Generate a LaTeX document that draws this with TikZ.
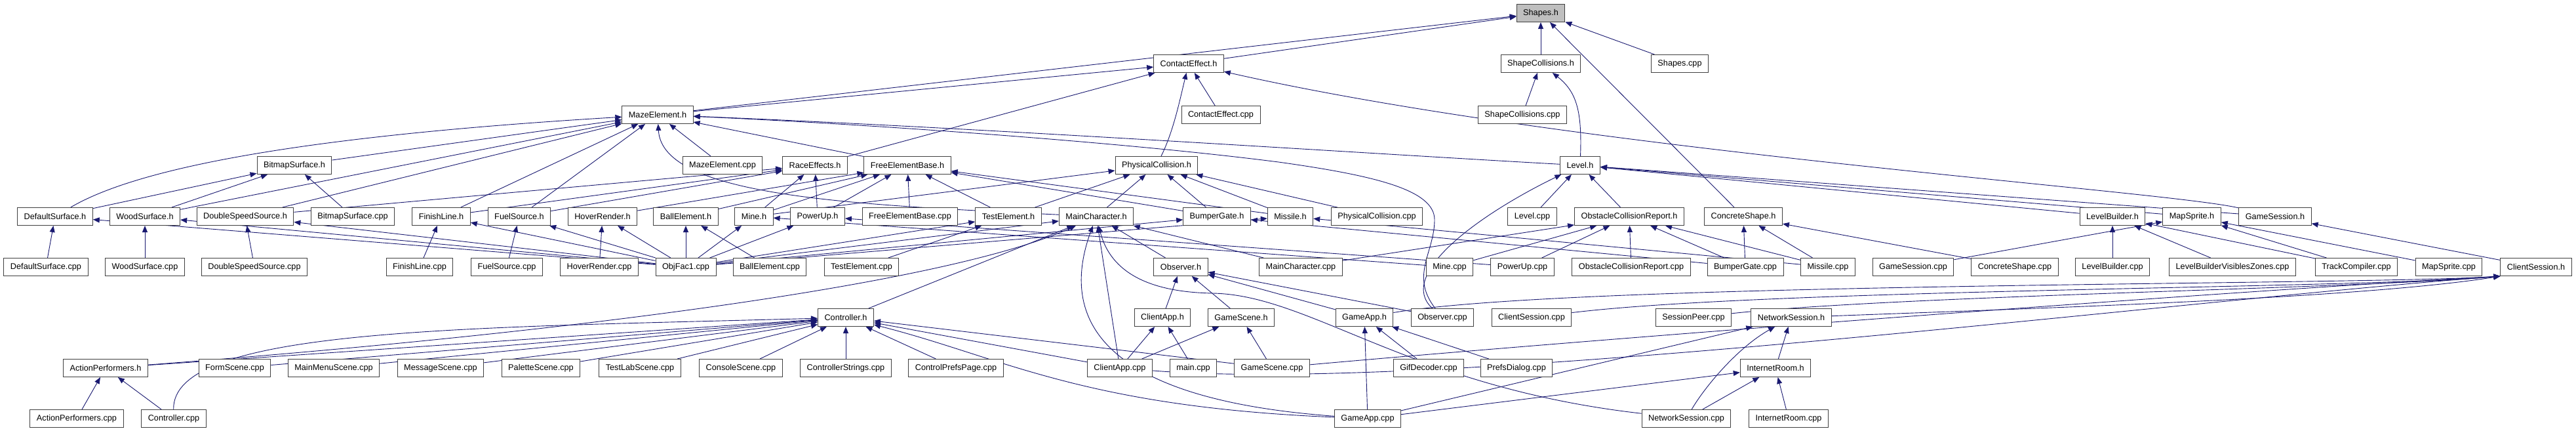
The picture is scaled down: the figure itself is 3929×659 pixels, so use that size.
\documentclass[tikz,border=0pt]{standalone}
\usepackage{fontspec}
\setmainfont{Liberation Sans}
\usetikzlibrary{arrows.meta}
\definecolor{midblue}{RGB}{25,25,112}
\definecolor{boxgray}{RGB}{191,191,191}
\pgfdeclarelayer{bg}
\pgfsetlayers{bg,main}
\begin{document}
\begin{tikzpicture}[
  x=1pt, y=-1pt,
  fnode/.style={draw=black!75, fill=white, line width=1pt, inner xsep=10pt, inner ysep=0pt,
    minimum height=27pt, font=\fontsize{12.7}{14}\selectfont},
  root/.style={fnode, fill=boxgray},
  dep/.style={draw=midblue, line width=0.9pt, -{Triangle[length=10pt,width=8pt]}}
]
  \useasboundingbox (0,0) rectangle (3929,659);

  % --- FILA 0 y 1 ---
  \node[root]  (shapesH)     at (2350, 20) {Shapes.h};
  \node[fnode] (contactH)    at (1813, 97) {ContactEffect.h};
  \node[fnode] (shapeColH)   at (2350, 97) {ShapeCollisions.h};
  \node[fnode] (shapesCpp)   at (2562, 97) {Shapes.cpp};

  % --- FILA 2 ---
  \node[fnode] (mazeH)       at (1003,175) {MazeElement.h};
  \node[fnode] (contactCpp)  at (1862,175) {ContactEffect.cpp};
  \node[fnode] (shapeColCpp) at (2322,175) {ShapeCollisions.cpp};

  % --- FILA 3 ---
  \node[fnode] (bitmapH)     at ( 449,252) {BitmapSurface.h};
  \node[fnode] (mazeCpp)     at (1102,252) {MazeElement.cpp};
  \node[fnode] (raceH)       at (1243,252) {RaceEffects.h};
  \node[fnode] (freeH)       at (1384,252) {FreeElementBase.h};
  \node[fnode] (physH)       at (1764,252) {PhysicalCollision.h};
  \node[fnode] (levelH)      at (2410,252) {Level.h};

  % --- FILA 4 ---
  \node[fnode] (defaultH)    at (  84,330) {DefaultSurface.h};
  \node[fnode] (woodH)       at ( 221,330) {WoodSurface.h};
  \node[fnode] (dssH)        at ( 374,330) {DoubleSpeedSource.h};
  \node[fnode] (bitmapCpp)   at ( 538,330) {BitmapSurface.cpp};
  \node[fnode] (finishH)     at ( 673,330) {FinishLine.h};
  \node[fnode] (fuelH)       at ( 792,330) {FuelSource.h};
  \node[fnode] (hoverH)      at ( 919,330) {HoverRender.h};
  \node[fnode] (ballH)       at (1046,330) {BallElement.h};
  \node[fnode] (mineH)       at (1150,330) {Mine.h};
  \node[fnode] (powerH)      at (1247,330) {PowerUp.h};
  \node[fnode] (freeCpp)     at (1388,330) {FreeElementBase.cpp};
  \node[fnode] (testH)       at (1538,330) {TestElement.h};
  \node[fnode] (mainCharH)   at (1672,330) {MainCharacter.h};
  \node[fnode] (bumperH)     at (1856,330) {BumperGate.h};
  \node[fnode] (missileH)    at (1968,330) {Missile.h};
  \node[fnode] (physCpp)     at (2100,330) {PhysicalCollision.cpp};
  \node[fnode] (levelCpp)    at (2337,330) {Level.cpp};
  \node[fnode] (ocrH)        at (2485,330) {ObstacleCollisionReport.h};
  \node[fnode] (concreteH)   at (2659,330) {ConcreteShape.h};
  \node[fnode] (builderH)    at (3222,330) {LevelBuilder.h};
  \node[fnode] (mapSpriteH)  at (3343,330) {MapSprite.h};
  \node[fnode] (gameSessH)   at (3470,330) {GameSession.h};

  % --- FILA 5 ---
  \node[fnode] (defaultCpp)  at (  70,407) {DefaultSurface.cpp};
  \node[fnode] (woodCpp)     at ( 221,407) {WoodSurface.cpp};
  \node[fnode] (dssCpp)      at ( 388,407) {DoubleSpeedSource.cpp};
  \node[fnode] (finishCpp)   at ( 640,407) {FinishLine.cpp};
  \node[fnode] (fuelCpp)     at ( 773,407) {FuelSource.cpp};
  \node[fnode] (hoverCpp)    at ( 914,407) {HoverRender.cpp};
  \node[fnode] (objFac)      at (1046,407) {ObjFac1.cpp};
  \node[fnode] (ballCpp)     at (1174,407) {BallElement.cpp};
  \node[fnode] (testCpp)     at (1314,407) {TestElement.cpp};
  \node[fnode] (observerH)   at (1801,407) {Observer.h};
  \node[fnode] (mainCharCpp) at (1984,407) {MainCharacter.cpp};
  \node[fnode] (mineCpp)     at (2211,407) {Mine.cpp};
  \node[fnode] (powerCpp)    at (2322,407) {PowerUp.cpp};
  \node[fnode] (ocrCpp)      at (2488,407) {ObstacleCollisionReport.cpp};
  \node[fnode] (bumperCpp)   at (2662,407) {BumperGate.cpp};
  \node[fnode] (missileCpp)  at (2788,407) {Missile.cpp};
  \node[fnode] (gameSessCpp) at (2918,407) {GameSession.cpp};
  \node[fnode] (concreteCpp) at (3073,407) {ConcreteShape.cpp};
  \node[fnode] (builderCpp)  at (3222,407) {LevelBuilder.cpp};
  \node[fnode] (zonesCpp)    at (3405,407) {LevelBuilderVisiblesZones.cpp};
  \node[fnode] (trackCpp)    at (3594,407) {TrackCompiler.cpp};
  \node[fnode] (mapSpriteCpp) at (3735,407) {MapSprite.cpp};
  \node[fnode] (clientSessH) at (3868,407) {ClientSession.h};

  % --- FILA 6 ---
  \node[fnode] (controllerH) at (1290,484) {Controller.h};
  \node[fnode] (clientAppH)  at (1773,484) {ClientApp.h};
  \node[fnode] (gameSceneH)  at (1893,484) {GameScene.h};
  \node[fnode] (gameAppH)    at (2081,484) {GameApp.h};
  \node[fnode] (observerCpp) at (2200,484) {Observer.cpp};
  \node[fnode] (clientSessCpp) at (2336,484) {ClientSession.cpp};
  \node[fnode] (sessPeerCpp) at (2583,484) {SessionPeer.cpp};
  \node[fnode] (netSessH)    at (2732,484) {NetworkSession.h};

  % --- FILA 7 ---
  \node[fnode] (actionH)     at ( 161,561) {ActionPerformers.h};
  \node[fnode] (formCpp)     at ( 358,561) {FormScene.cpp};
  \node[fnode] (mainMenuCpp) at ( 509,561) {MainMenuScene.cpp};
  \node[fnode] (messageCpp)  at ( 672,561) {MessageScene.cpp};
  \node[fnode] (paletteCpp)  at ( 825,561) {PaletteScene.cpp};
  \node[fnode] (testLabCpp)  at ( 976,561) {TestLabScene.cpp};
  \node[fnode] (consoleCpp)  at (1130,561) {ConsoleScene.cpp};
  \node[fnode] (ctrlStrCpp)  at (1290,561) {ControllerStrings.cpp};
  \node[fnode] (ctrlPrefsCpp) at (1458,561) {ControlPrefsPage.cpp};
  \node[fnode] (clientAppCpp) at (1708,561) {ClientApp.cpp};
  \node[fnode] (mainCpp)     at (1820,561) {main.cpp};
  \node[fnode] (gameSceneCpp) at (1940,561) {GameScene.cpp};
  \node[fnode] (gifCpp)      at (2179,561) {GifDecoder.cpp};
  \node[fnode] (prefsCpp)    at (2313,561) {PrefsDialog.cpp};
  \node[fnode] (netRoomH)    at (2708,561) {InternetRoom.h};

  % --- FILA 8 ---
  \node[fnode] (actionCpp)   at ( 117,638) {ActionPerformers.cpp};
  \node[fnode] (controllerCpp) at (265,638) {Controller.cpp};
  \node[fnode] (gameAppCpp)  at (2086,638) {GameApp.cpp};
  \node[fnode] (netSessCpp)  at (2572,638) {NetworkSession.cpp};
  \node[fnode] (netRoomCpp)  at (2728,638) {InternetRoom.cpp};

  \begin{pgfonlayer}{bg}
  % Shapes.h
  \draw[dep] (contactH) -- (shapesH);
  \draw[dep] (mazeH) -- (shapesH);
  \draw[dep] (shapeColH) -- (shapesH);
  \draw[dep] (shapesCpp) -- (shapesH);
  \draw[dep] (concreteH) -- (shapesH);

  % ContactEffect.h y ShapeCollisions.h
  \draw[dep] (mazeH) -- (contactH);
  \draw[dep] (contactCpp) -- (contactH);
  \draw[dep] (physH) .. controls (1790,200) and (1800,150) .. (contactH);
  \draw[dep] (raceH) -- (contactH);
  \draw[dep] (gameSessH) .. controls (3300,290) and (2400,230) .. (contactH);
  \draw[dep] (shapeColCpp) -- (shapeColH);
  \draw[dep] (levelH) .. controls (2413,170) and (2405,140) .. (shapeColH);

  % MazeElement.h
  \draw[dep] (defaultH) .. controls (220,250) and (500,205) .. (mazeH);
  \draw[dep] (bitmapH) -- (mazeH);
  \draw[dep] (woodH) -- (mazeH);
  \draw[dep] (dssH) -- (mazeH);
  \draw[dep] (finishH) -- (mazeH);
  \draw[dep] (fuelH) -- (mazeH);
  \draw[dep] (mazeCpp) -- (mazeH);
  \draw[dep] (freeH) -- (mazeH);
  \draw[dep] (mainCharH) .. controls (1300,312) and (1010,300) .. (mazeH);
  \draw[dep] (levelH) .. controls (2100,235) and (1500,195) .. (mazeH);
  \draw[dep] (observerCpp) .. controls (2150,420) and (2188,385) .. (2188,335)
    .. controls (2188,290) and (2100,268) .. (1950,247)
    .. controls (1700,215) and (1300,188) .. (mazeH);

  % BitmapSurface.h, RaceEffects.h
  \draw[dep] (defaultH) -- (bitmapH);
  \draw[dep] (woodH) -- (bitmapH);
  \draw[dep] (bitmapCpp) -- (bitmapH);
  \draw[dep] (dssH) -- (raceH);
  \draw[dep] (finishH) -- (raceH);
  \draw[dep] (fuelH) -- (raceH);
  \draw[dep] (mineH) -- (raceH);
  \draw[dep] (powerH) -- (raceH);

  % FreeElementBase.h, PhysicalCollision.h
  \draw[dep] (hoverH) -- (freeH);
  \draw[dep] (ballH) -- (freeH);
  \draw[dep] (mineH) -- (freeH);
  \draw[dep] (powerH) -- (freeH);
  \draw[dep] (freeCpp) -- (freeH);
  \draw[dep] (testH) -- (freeH);
  \draw[dep] (bumperH) -- (freeH);
  \draw[dep] (missileH) -- (freeH);
  \draw[dep] (mineH) -- (physH);
  \draw[dep] (testH) -- (physH);
  \draw[dep] (mainCharH) -- (physH);
  \draw[dep] (bumperH) -- (physH);
  \draw[dep] (missileH) -- (physH);
  \draw[dep] (physCpp) -- (physH);

  % Level.h
  \draw[dep] (observerCpp) .. controls (2130,420) and (2250,330) .. (levelH);
  \draw[dep] (levelCpp) -- (levelH);
  \draw[dep] (ocrH) -- (levelH);
  \draw[dep] (builderH) -- (levelH);
  \draw[dep] (mapSpriteH) -- (levelH);
  \draw[dep] (gameSessH) -- (levelH);

  % ObjFac1.cpp
  \draw[dep] (objFac) -- (defaultH);
  \draw[dep] (objFac) -- (woodH);
  \draw[dep] (objFac) -- (dssH);
  \draw[dep] (objFac) -- (finishH);
  \draw[dep] (objFac) -- (fuelH);
  \draw[dep] (objFac) -- (hoverH);
  \draw[dep] (objFac) -- (ballH);
  \draw[dep] (objFac) -- (mineH);
  \draw[dep] (objFac) -- (powerH);
  \draw[dep] (objFac) -- (testH);
  \draw[dep] (objFac) -- (mainCharH);
  \draw[dep] (objFac) -- (bumperH);
  \draw[dep] (objFac) -- (missileH);

  % ficheros .cpp de la fila 5
  \draw[dep] (defaultCpp) -- (defaultH);
  \draw[dep] (woodCpp) -- (woodH);
  \draw[dep] (dssCpp) -- (dssH);
  \draw[dep] (finishCpp) -- (finishH);
  \draw[dep] (fuelCpp) -- (fuelH);
  \draw[dep] (hoverCpp) -- (hoverH);
  \draw[dep] (ballCpp) -- (ballH);
  \draw[dep] (testCpp) -- (testH);
  \draw[dep] (mainCharCpp) -- (mainCharH);
  \draw[dep] (mineCpp) -- (mineH);
  \draw[dep] (powerCpp) -- (powerH);
  \draw[dep] (bumperCpp) -- (bumperH);
  \draw[dep] (missileCpp) -- (missileH);

  % ObstacleCollisionReport.h, ConcreteShape.h
  \draw[dep] (mainCharCpp) -- (ocrH);
  \draw[dep] (mineCpp) -- (ocrH);
  \draw[dep] (powerCpp) -- (ocrH);
  \draw[dep] (ocrCpp) -- (ocrH);
  \draw[dep] (bumperCpp) -- (ocrH);
  \draw[dep] (missileCpp) -- (ocrH);
  \draw[dep] (bumperCpp) -- (concreteH);
  \draw[dep] (missileCpp) -- (concreteH);
  \draw[dep] (concreteCpp) -- (concreteH);

  % LevelBuilder.h, MapSprite.h, GameSession.h
  \draw[dep] (builderCpp) -- (builderH);
  \draw[dep] (zonesCpp) -- (builderH);
  \draw[dep] (trackCpp) -- (builderH);
  \draw[dep] (gameSessCpp) -- (mapSpriteH);
  \draw[dep] (trackCpp) -- (mapSpriteH);
  \draw[dep] (mapSpriteCpp) -- (mapSpriteH);
  \draw[dep] (clientSessH) -- (gameSessH);

  % MainCharacter.h y Observer.h
  \draw[dep] (controllerH) -- (mainCharH);
  \draw[dep] (actionH) .. controls (900,505) and (1450,430) .. (mainCharH);
  \draw[dep] (clientAppCpp) -- (mainCharH);
  \draw[dep] (gameAppCpp) .. controls (1700,610) and (1610,500) .. (mainCharH);
  \draw[dep] (observerH) -- (mainCharH);
  \draw[dep] (netSessCpp) .. controls (2150,590) and (2000,450) .. (1850,447)
    .. controls (1730,445) and (1690,400) .. (mainCharH);
  \draw[dep] (clientAppH) -- (observerH);
  \draw[dep] (gameSceneH) -- (observerH);
  \draw[dep] (gameAppH) -- (observerH);
  \draw[dep] (observerCpp) -- (observerH);

  % Controller.h
  \draw[dep] (actionH) -- (controllerH);
  \draw[dep] (controllerCpp) .. controls (262,500) and (700,500) .. (controllerH);
  \draw[dep] (formCpp) -- (controllerH);
  \draw[dep] (mainMenuCpp) -- (controllerH);
  \draw[dep] (messageCpp) -- (controllerH);
  \draw[dep] (paletteCpp) -- (controllerH);
  \draw[dep] (testLabCpp) -- (controllerH);
  \draw[dep] (consoleCpp) -- (controllerH);
  \draw[dep] (ctrlStrCpp) -- (controllerH);
  \draw[dep] (ctrlPrefsCpp) -- (controllerH);
  \draw[dep] (clientAppCpp) -- (controllerH);
  \draw[dep] (gameSceneCpp) -- (controllerH);
  \draw[dep] (gameAppCpp) .. controls (1650,620) and (1530,545) .. (controllerH);
  \draw[dep] (actionCpp) -- (actionH);
  \draw[dep] (controllerCpp) -- (actionH);

  % ClientApp.h, GameScene.h, GameApp.h
  \draw[dep] (clientAppCpp) -- (clientAppH);
  \draw[dep] (mainCpp) -- (clientAppH);
  \draw[dep] (clientAppCpp) -- (gameSceneH);
  \draw[dep] (gameSceneCpp) -- (gameSceneH);
  \draw[dep] (gameAppCpp) -- (gameAppH);
  \draw[dep] (gifCpp) -- (gameAppH);
  \draw[dep] (prefsCpp) -- (gameAppH);

  % ClientSession.h (las lineas pasan por debajo de la fila 5)
  \draw[dep] (netSessH) .. controls (3100,470) and (3600,455) .. (clientSessH.south west);
  \draw[dep] (sessPeerCpp) .. controls (2900,450) and (3600,440) .. (clientSessH.south west);
  \draw[dep] (clientSessCpp) .. controls (2700,440) and (3600,440) .. (clientSessH.south west);
  \draw[dep] (gameAppH) .. controls (2400,430) and (3600,435) .. (clientSessH.south west);
  \draw[dep] (gameSceneCpp) .. controls (2400,520) and (3300,450) .. (clientSessH.south west);
  \draw[dep] (clientAppCpp) .. controls (2200,600) and (3300,460) .. (clientSessH.south west);

  % NetworkSession.h, InternetRoom.h
  \draw[dep] (netRoomH) -- (netSessH);
  \draw[dep] (netSessCpp) .. controls (2600,590) and (2650,530) .. (netSessH);
  \draw[dep] (gameAppCpp) -- (netSessH);
  \draw[dep] (netRoomCpp) -- (netRoomH);
  \draw[dep] (netSessCpp) -- (netRoomH);
  \draw[dep] (gameAppCpp) -- (netRoomH);
  \end{pgfonlayer}
\end{tikzpicture}
\end{document}
